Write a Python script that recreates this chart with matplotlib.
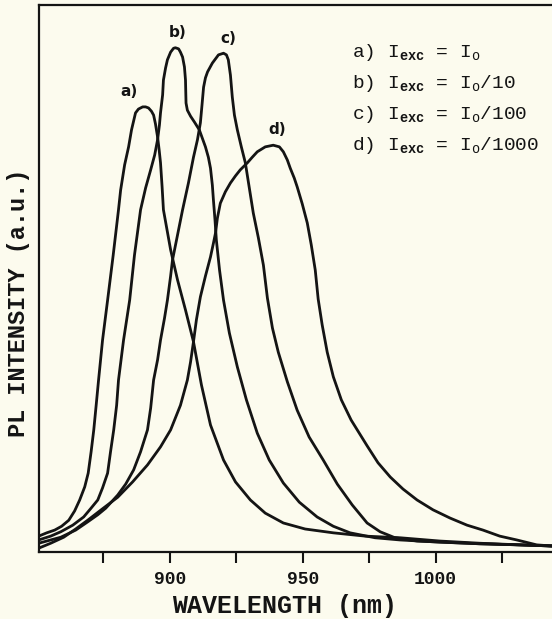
import matplotlib
matplotlib.use('Agg')
import matplotlib.pyplot as plt

# Typewriter-style lettering for labels and the legend block
plt.rcParams['mathtext.fontset'] = 'custom'
plt.rcParams['mathtext.rm'] = 'Liberation Mono'
plt.rcParams['mathtext.bf'] = 'Liberation Mono:bold'

# PL spectra, wavelength in nm, intensity in arbitrary units
wl_a = [850.7, 853.7, 856.7, 859.3, 862.0, 864.2, 866.1, 868.0, 869.3, 870.4, 871.4, 872.3,
        873.2, 874.7, 876.6, 878.7, 880.7, 881.5, 883.0, 884.5, 885.6, 887.1, 888.2, 889.8,
        890.9, 892.0, 893.1, 893.9, 894.6, 895.4, 896.0, 896.5, 897.1, 897.6, 900.3, 902.9,
        905.9, 908.9, 911.9, 915.3, 920.2, 924.7, 930.3, 935.9, 942.7, 950.9, 961.5, 973.5,
        986.6, 1001.6, 1016.6, 1031.7, 1043.7, 1046.0]
pl_a = [0.029, 0.035, 0.040, 0.047, 0.058, 0.075, 0.095, 0.119, 0.144, 0.183, 0.223, 0.268,
        0.314, 0.387, 0.460, 0.542, 0.625, 0.661, 0.707, 0.740, 0.771, 0.802, 0.809, 0.813,
        0.813, 0.811, 0.805, 0.798, 0.782, 0.758, 0.734, 0.711, 0.667, 0.625, 0.552, 0.497,
        0.442, 0.384, 0.305, 0.232, 0.168, 0.128, 0.095, 0.071, 0.053, 0.042, 0.035, 0.029,
        0.026, 0.020, 0.016, 0.013, 0.011, 0.011]

wl_b = [850.7, 855.2, 859.0, 863.5, 867.6, 870.2, 872.9, 874.7, 876.6, 877.7, 878.9, 880.0,
        880.7, 882.6, 884.9, 886.7, 889.0, 890.9, 892.8, 894.3, 895.4, 896.1, 896.5, 897.3,
        897.6, 898.4, 899.1, 900.3, 901.4, 902.1, 903.3, 904.0, 904.8, 905.5, 905.9, 906.0,
        906.1, 906.6, 907.8, 909.3, 911.1, 913.4, 914.5, 915.3, 916.0, 916.4, 917.0, 917.5,
        918.7, 920.2, 922.4, 925.4, 928.8, 932.9, 937.4, 942.7, 948.7, 955.4, 961.5, 967.8,
        977.2, 986.6, 1001.6, 1016.6, 1031.7, 1043.7, 1046.0]
pl_b = [0.022, 0.029, 0.037, 0.049, 0.064, 0.079, 0.095, 0.117, 0.144, 0.183, 0.223, 0.268,
        0.314, 0.387, 0.460, 0.542, 0.625, 0.665, 0.698, 0.725, 0.753, 0.780, 0.802, 0.835,
        0.862, 0.884, 0.899, 0.913, 0.920, 0.921, 0.919, 0.913, 0.904, 0.886, 0.862, 0.840,
        0.820, 0.807, 0.796, 0.785, 0.771, 0.740, 0.721, 0.701, 0.670, 0.643, 0.606, 0.570,
        0.515, 0.460, 0.400, 0.338, 0.278, 0.217, 0.168, 0.126, 0.091, 0.064, 0.047, 0.035,
        0.026, 0.022, 0.018, 0.015, 0.013, 0.011, 0.011]

wl_c = [850.7, 855.2, 859.0, 864.6, 869.1, 872.9, 875.9, 880.4, 883.4, 886.4, 889.0, 891.6,
        892.8, 893.9, 895.4, 896.5, 898.0, 899.1, 900.3, 901.0, 902.9, 904.8, 907.0, 908.9,
        910.4, 911.5, 912.1, 912.7, 913.4, 914.2, 916.0, 918.3, 920.2, 921.3, 922.0, 922.8,
        923.5, 924.3, 925.4, 926.9, 928.4, 929.9, 931.4, 933.3, 935.2, 936.7, 938.6, 940.8,
        944.2, 947.9, 952.4, 957.7, 963.0, 968.6, 974.2, 979.1, 984.7, 993.0, 1016.6, 1031.7,
        1043.7, 1046.0]
pl_c = [0.016, 0.022, 0.027, 0.040, 0.055, 0.068, 0.080, 0.104, 0.124, 0.150, 0.183, 0.223,
        0.263, 0.314, 0.351, 0.387, 0.427, 0.460, 0.504, 0.533, 0.579, 0.625, 0.674, 0.721,
        0.753, 0.784, 0.816, 0.849, 0.866, 0.877, 0.893, 0.908, 0.911, 0.908, 0.899, 0.871,
        0.831, 0.798, 0.771, 0.740, 0.711, 0.665, 0.619, 0.574, 0.524, 0.464, 0.409, 0.365,
        0.311, 0.259, 0.210, 0.168, 0.124, 0.086, 0.053, 0.037, 0.026, 0.020, 0.015, 0.013,
        0.011, 0.011]

wl_d = [850.7, 855.2, 860.1, 864.6, 869.1, 874.7, 880.4, 886.0, 891.6, 896.5, 900.3, 904.0,
        906.6, 907.8, 908.9, 910.0, 911.5, 913.4, 915.3, 916.4, 917.2, 917.9, 919.0, 920.9,
        922.8, 924.7, 926.5, 929.2, 931.0, 932.9, 935.9, 938.9, 941.2, 942.7, 944.2, 945.3,
        946.8, 947.9, 949.8, 951.7, 953.2, 954.7, 955.8, 957.3, 959.2, 961.5, 964.5, 968.2,
        974.2, 978.3, 982.9, 987.7, 993.0, 999.0, 1005.4, 1011.8, 1017.8, 1024.1, 1030.5,
        1038.0, 1043.7, 1046.0]
pl_d = [0.007, 0.016, 0.027, 0.042, 0.058, 0.079, 0.100, 0.128, 0.159, 0.192, 0.223, 0.268,
        0.314, 0.347, 0.384, 0.424, 0.466, 0.504, 0.539, 0.564, 0.583, 0.610, 0.637, 0.658,
        0.674, 0.687, 0.698, 0.711, 0.721, 0.731, 0.740, 0.743, 0.740, 0.731, 0.716, 0.701,
        0.683, 0.667, 0.636, 0.601, 0.561, 0.515, 0.462, 0.415, 0.365, 0.320, 0.278, 0.241,
        0.194, 0.163, 0.137, 0.115, 0.095, 0.077, 0.062, 0.049, 0.040, 0.029, 0.022, 0.013,
        0.011, 0.011]

curve_tags = ['a)', 'b)', 'c)', 'd)']
tag_wl = [884.5, 902.9, 922.0, 940.4]
tag_pl = [0.842, 0.948, 0.937, 0.771]

legend_lines = [
    r'a) I$_{\mathbf{exc}}$ = I$_{\mathrm{o}}$',
    r'b) I$_{\mathbf{exc}}$ = I$_{\mathrm{o}}$/10',
    r'c) I$_{\mathbf{exc}}$ = I$_{\mathrm{o}}$/100',
    r'd) I$_{\mathbf{exc}}$ = I$_{\mathrm{o}}$/1000',
]

paper = '#fcfbee'
ink = '#141414'

fig = plt.figure(figsize=(5.52, 6.19), dpi=100, facecolor=paper)
ax = fig.add_axes([39 / 552, 67 / 619, 519 / 552, 547.5 / 619])
ax.set_facecolor(paper)

for wl, pl in [(wl_a, pl_a), (wl_b, pl_b), (wl_c, pl_c), (wl_d, pl_d)]:
    ax.plot(wl, pl, color=ink, lw=2.0, solid_joinstyle='round', solid_capstyle='round')

for tag, x, y in zip(curve_tags, tag_wl, tag_pl):
    ax.text(x, y, tag, ha='center', va='center', fontsize=11, fontweight='bold',
            family='DejaVu Sans', color=ink)

ax.set_xlim(850.8, 1046)
ax.set_ylim(0, 1)

ax.set_xticks([900, 950, 1000])
ax.set_xticklabels(['900', '950', '1000'])
ax.set_xticks([875, 925, 975, 1025], minor=True)
ax.tick_params(axis='x', which='both', direction='out', length=8, width=1.5,
               colors=ink, pad=6)
ax.set_yticks([])
for lbl in ax.get_xticklabels():
    lbl.set_family('Liberation Mono')
    lbl.set_fontsize(13)
    lbl.set_fontweight('bold')

for side in ax.spines.values():
    side.set_linewidth(1.6)
    side.set_color(ink)

fig.text(285 / 552, 1 - 606 / 619, 'WAVELENGTH (nm)', ha='center', va='center',
         family='Liberation Mono', fontweight='bold', fontsize=18, color=ink)
fig.text(19 / 552, 1 - 303 / 619, 'PL INTENSITY (a.u.)', ha='center', va='center',
         rotation=90, family='Liberation Mono', fontweight='bold', fontsize=17, color=ink)

for i, line in enumerate(legend_lines):
    fig.text(352 / 552, 1 - (57 + 31 * i) / 619, line, ha='left', va='baseline',
             family='Liberation Mono', fontsize=14, color=ink)

fig.savefig('out.png', dpi=100, facecolor=paper)
